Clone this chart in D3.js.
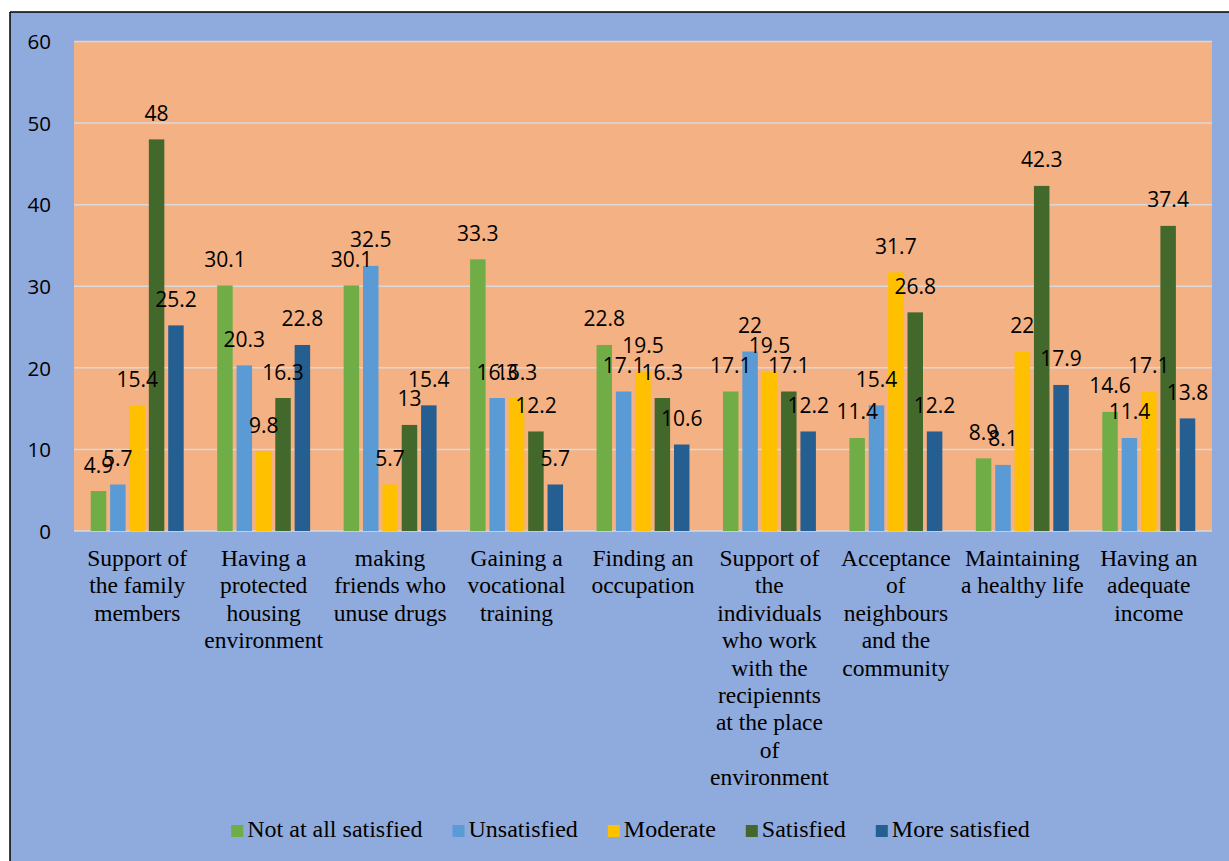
<!DOCTYPE html>
<html>
<head>
<meta charset="utf-8">
<script src="https://cdn.jsdelivr.net/npm/d3@7"></script>
<style>
  html, body { margin: 0; padding: 0; background: #ffffff; }
  svg { display: block; }
</style>
</head>
<body>
<svg id="chart" width="1229" height="861"></svg>
<script>
// Satisfaction levels per support area (percent)
const categories = [
  ["Support of", "the family", "members"],
  ["Having a", "protected", "housing", "environment"],
  ["making", "friends who", "unuse drugs"],
  ["Gaining a", "vocational", "training"],
  ["Finding an", "occupation"],
  ["Support of", "the", "individuals", "who work", "with the", "recipiennts", "at the place", "of", "environment"],
  ["Acceptance", "of", "neighbours", "and the", "community"],
  ["Maintaining", "a healthy life"],
  ["Having an", "adequate", "income"]
];
const seriesNames = ["Not at all satisfied", "Unsatisfied", "Moderate", "Satisfied", "More satisfied"];
const notAtAll    = [4.9, 30.1, 30.1, 33.3, 22.8, 17.1, 11.4, 8.9, 14.6];
const unsatisfied = [5.7, 20.3, 32.5, 16.3, 17.1, 22, 15.4, 8.1, 11.4];
const moderate    = [15.4, 9.8, 5.7, 16.3, 19.5, 19.5, 31.7, 22, 17.1];
const satisfied   = [48, 16.3, 13, 12.2, 16.3, 17.1, 26.8, 42.3, 37.4];
const moreSat     = [25.2, 22.8, 15.4, 5.7, 10.6, 12.2, 12.2, 17.9, 13.8];
const yTicks = [0, 10, 20, 30, 40, 50, 60];

const seriesValues = [notAtAll, unsatisfied, moderate, satisfied, moreSat];
const colors = ["#70AD47", "#5B9BD5", "#FFC000", "#43682B", "#255E91"];

const svg = d3.select("#chart");
const W = 1229, H = 861;
const plot = { left: 74, right: 1212, top: 41.5, bottom: 531 };

// outer chart area with its border
svg.append("rect").attr("x", 10).attr("y", 12).attr("width", W).attr("height", H)
  .attr("fill", "#8FAADC");
svg.append("line").attr("x1", 10).attr("x2", W).attr("y1", 12).attr("y2", 12)
  .attr("stroke", "#000").attr("stroke-width", 1.5);
svg.append("line").attr("x1", 10).attr("x2", 10).attr("y1", 12).attr("y2", H)
  .attr("stroke", "#000").attr("stroke-width", 1.5);

// plot area
svg.append("rect")
  .attr("x", plot.left).attr("y", plot.top)
  .attr("width", plot.right - plot.left).attr("height", plot.bottom - plot.top)
  .attr("fill", "#F4B183");

const idx = d3.range(categories.length);
const x0 = d3.scaleBand().domain(idx).range([plot.left, plot.right])
  .paddingInner(0.265).paddingOuter(0.1325);
const x1 = d3.scaleBand().domain(d3.range(seriesNames.length))
  .range([0, x0.bandwidth()]).paddingInner(0.2);
const y = d3.scaleLinear().domain([0, 60]).range([plot.bottom, plot.top]);

// gridlines
svg.append("g").selectAll("line").data(yTicks).join("line")
  .attr("x1", plot.left).attr("x2", plot.right)
  .attr("y1", d => y(d)).attr("y2", d => y(d))
  .attr("stroke", "#D9D9D9").attr("stroke-width", 1.5);

// y axis labels
const yAxis = d3.axisLeft(y).tickValues(yTicks).tickSize(0).tickPadding(0);
const yg = svg.append("g").attr("transform", `translate(${plot.left - 23},0)`).call(yAxis);
yg.select(".domain").remove();
yg.selectAll("text")
  .attr("font-family", "'Open Sans', sans-serif").attr("font-size", 20.5)
  .attr("fill", "#000").attr("dy", "0.35em");

// bars
const groups = svg.append("g").selectAll("g").data(idx).join("g")
  .attr("transform", i => `translate(${x0(i)},0)`);

groups.selectAll("rect")
  .data(i => seriesValues.map((vals, s) => ({ s, v: vals[i] })))
  .join("rect")
  .attr("x", d => x1(d.s))
  .attr("width", x1.bandwidth())
  .attr("y", d => y(d.v))
  .attr("height", d => y(0) - y(d.v))
  .attr("fill", d => colors[d.s]);

// value labels
groups.selectAll("text.val")
  .data(i => seriesValues.map((vals, s) => ({ s, v: vals[i] })))
  .join("text").attr("class", "val")
  .attr("x", d => x1(d.s) + x1.bandwidth() / 2)
  .attr("y", d => y(d.v) - 18.5)
  .attr("text-anchor", "middle")
  .attr("font-family", "'Open Sans', sans-serif").attr("font-size", 21)
  .attr("fill", "#000")
  .text(d => d.v);

// category labels
const catG = svg.append("g").selectAll("text").data(idx).join("text")
  .attr("x", i => x0(i) + x0.bandwidth() / 2)
  .attr("y", 566)
  .attr("text-anchor", "middle")
  .attr("font-family", "'Liberation Serif', 'Times New Roman', serif")
  .attr("font-size", 23.5)
  .attr("fill", "#000");
catG.selectAll("tspan").data(i => categories[i]).join("tspan")
  .attr("x", function () { return d3.select(this.parentNode).attr("x"); })
  .attr("dy", (d, k) => k === 0 ? 0 : 27.4)
  .text(d => d);

// legend
const legend = svg.append("g");
const items = legend.selectAll("g").data(seriesNames).join("g");
items.append("rect").attr("width", 12).attr("height", 12).attr("y", -12)
  .attr("fill", (d, i) => colors[i]);
items.append("text").attr("x", 16).attr("y", 0)
  .attr("font-family", "'Liberation Serif', 'Times New Roman', serif")
  .attr("font-size", 24).attr("fill", "#000")
  .text(d => d);
let cx = 0;
const gap = 30;
items.each(function () {
  const g = d3.select(this);
  const w = 16 + g.select("text").node().getComputedTextLength();
  g.attr("transform", `translate(${cx},0)`);
  cx += w + gap;
});
const legendW = cx - gap;
legend.attr("transform", `translate(${(228 + 1033) / 2 - legendW / 2},837)`);
</script>
</body>
</html>
